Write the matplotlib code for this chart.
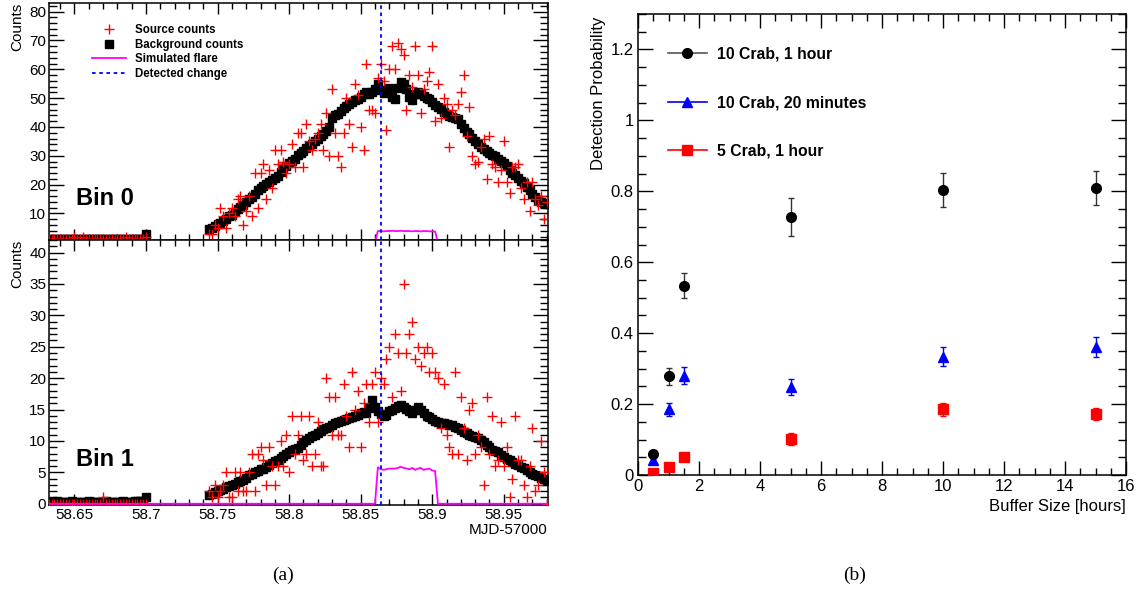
import numpy as np
import matplotlib
matplotlib.use("Agg")
import matplotlib.pyplot as plt
from matplotlib.lines import Line2D
from matplotlib.ticker import MultipleLocator, FuncFormatter

plt.rcParams['font.family'] = ['Liberation Sans', 'DejaVu Sans']

# ---------------- panel (a) data ----------------
bin_width = 0.002
early_start = 58.632
main_start = 58.744
flare_start = 58.860
change_time = 58.864

bg0_early = [1.0, 1.0, 1.1, 1.0, 1.0, 1.0, 1.1, 1.0, 1.0, 1.0,
             1.0, 1.1, 1.0, 1.0, 1.0, 1.0, 1.1, 1.0, 1.0, 1.0,
             1.0, 1.0, 1.1, 1.0, 1.0, 1.0, 1.0, 1.1, 1.0, 1.0,
             1.1, 1.2, 1.2, 1.3, 2.9]
src0_early = [1, 1, 1, 1, 1, 1, 1, 1, 1, 2,
              1, 1, 2, 1, 1, 1, 1, 1, 1, 1,
              1, 1, 1, 1, 1, 1, 1, 2, 1, 1,
              1, 1, 1, 1, 2]
bg1_early = [0.3, 0.3, 0.3, 0.4, 0.3, 0.3, 0.3, 0.3, 0.4, 0.3,
             0.3, 0.3, 0.3, 0.3, 0.4, 0.3, 0.3, 0.3, 0.3, 0.3,
             0.4, 0.3, 0.3, 0.3, 0.3, 0.3, 0.4, 0.3, 0.3, 0.3,
             0.4, 0.4, 0.5, 0.5, 1.0]
src1_early = [0, 0, 0, 0, 0, 0, 0, 0, 0, 0,
              0, 0, 0, 0, 0, 0, 0, 0, 0, 1,
              0, 0, 0, 0, 0, 0, 0, 0, 0, 0,
              0, 0, 0, 0, 0]

bg0 = [4.6, 5.0, 5.6, 6.2, 6.8, 7.5, 8.2, 9.0, 9.6, 10.5,
       11.4, 12.3, 13.0, 14.0, 15.0, 15.8, 16.8, 18.0, 18.8, 19.6,
       20.2, 21.0, 21.6, 22.3, 23.0, 24.5, 25.6, 26.6, 27.4, 28.3,
       29.0, 30.2, 31.0, 31.8, 32.6, 33.3, 34.2, 35.0, 35.8, 36.8,
       37.6, 38.5, 40.0, 43.0, 44.0, 44.6, 45.4, 46.5, 47.3, 48.0,
       48.8, 49.3, 49.8, 50.5, 51.3, 52.2, 51.5, 52.0, 53.0, 54.8,
       52.8, 51.8, 52.5, 53.6, 50.5, 49.8, 53.5, 55.5, 54.8, 53.2,
       50.5, 49.4, 51.5, 52.3, 51.5, 50.8, 50.2, 49.6, 48.8, 47.6,
       47.0, 46.2, 45.3, 44.5, 43.8, 43.5, 43.2, 42.6, 41.0, 39.6,
       38.3, 37.4, 36.2, 35.2, 34.2, 33.0, 32.2, 31.6, 31.0, 30.4,
       30.0, 29.0, 28.2, 27.4, 26.4, 25.2, 24.2, 23.4, 22.4, 21.4,
       20.4, 19.2, 18.0, 16.8, 15.8, 14.8, 14.0, 13.6, 13.2]
src0 = [3, 3, 6, 5, 12, 9, 5, 10, 12, 9,
        15, 16, 6, 11, 16, 9, 24, 12, 24, 27,
        15, 25, 19, 32, 27, 32, 28, 24, 27, 34,
        26, 38, 38, 26, 41, 35, 32, 36, 38, 41,
        32, 45, 30, 53, 38, 30, 26, 38, 50, 41,
        33, 55, 51, 40, 32, 62, 46, 46, 45, 57,
        62, 56, 39, 60, 68, 60, 69, 67, 65, 46,
        58, 54, 68, 58, 45, 53, 56, 59, 68, 42,
        55, 43, 50, 48, 33, 46, 44, 48, 52, 58,
        37, 47, 30, 27, 28, 33, 36, 22, 37, 27,
        26, 21, 25, 35, 21, 17, 26, 26, 27, 19,
        15, 21, 11, 21, 15, 13, 16, 8, 14]
bg1 = [1.4, 1.6, 1.8, 2.0, 2.2, 2.4, 2.6, 2.8, 3.0, 3.2,
       3.5, 3.7, 3.8, 4.1, 4.6, 4.8, 5.0, 5.2, 5.5, 5.6,
       5.8, 6.2, 6.5, 6.8, 7.0, 7.3, 7.6, 7.9, 8.2, 8.5,
       8.7, 8.9, 9.3, 9.8, 10.2, 10.5, 10.8, 11.0, 11.3, 11.6,
       11.9, 12.0, 12.2, 12.5, 12.8, 13.0, 13.1, 13.3, 13.5, 13.6,
       13.8, 14.0, 14.2, 14.4, 14.6, 14.5, 15.3, 16.6, 15.4, 14.8,
       14.3, 13.9, 14.2, 14.8, 15.0, 15.2, 15.5, 15.8, 15.4, 15.1,
       14.7, 14.5, 15.0, 15.4, 15.0, 14.4, 14.0, 13.8, 13.5, 13.2,
       13.0, 12.9, 12.8, 12.7, 12.6, 12.5, 12.3, 12.0, 11.7, 11.4,
       11.2, 11.0, 10.8, 10.6, 10.4, 10.2, 9.8, 9.4, 9.0, 8.6,
       8.4, 8.2, 7.8, 7.4, 7.1, 6.9, 6.7, 6.4, 6.1, 5.9,
       5.7, 5.4, 5.1, 4.8, 4.6, 4.4, 4.1, 3.9, 3.7]
src1 = [2, 1, 3, 1, 2, 3, 5, 1, 1, 5,
        2, 5, 2, 2, 5, 8, 2, 8, 9, 7,
        3, 9, 6, 3, 6, 10, 6, 11, 5, 14,
        8, 11, 14, 7, 8, 14, 6, 8, 13, 6,
        6, 20, 17, 11, 17, 11, 11, 19, 14, 9,
        21, 15, 18, 9, 16, 19, 13, 19, 21, 13,
        20, 19, 23, 25, 17, 27, 24, 18, 35, 24,
        27, 29, 23, 25, 22, 24, 25, 21, 24, 21,
        20, 12, 19, 11, 9, 8, 21, 8, 17, 12,
        7, 15, 16, 8, 11, 9, 3, 17, 8, 14,
        6, 7, 13, 6, 9, 1, 4, 14, 7, 7,
        3, 1, 6, 12, 2, 3, 10, 5, 0]
flare0 = [0, 3.9, 3.9, 3.8, 3.9, 3.9, 4.0, 3.9, 3.9, 4.0, 3.9, 3.9,
          3.9, 3.8, 3.9, 3.9, 3.8, 3.9, 3.9, 3.8, 3.8, 3.7, 0]
flare1 = [0, 5.8, 5.5, 5.4, 5.5, 5.6, 5.6, 5.6, 5.7, 5.9, 5.7, 5.6,
          5.5, 5.7, 5.4, 5.6, 5.7, 5.4, 5.5, 5.6, 5.3, 5.2, 0]

# ---------------- panel (b) data ----------------
buffer_hours = [0.5, 1, 1.5, 5, 10, 15]
p10_1h = [0.058, 0.279, 0.534, 0.728, 0.805, 0.808]
e10_1h = [0.010, 0.024, 0.035, 0.054, 0.048, 0.048]
p10_20m = [0.042, 0.185, 0.280, 0.248, 0.334, 0.361]
e10_20m = [0.008, 0.018, 0.024, 0.023, 0.027, 0.028]
p5_1h = [0.007, 0.023, 0.052, 0.101, 0.185, 0.171]
e5_1h = [0.004, 0.007, 0.010, 0.017, 0.019, 0.017]

XMIN, XMAX = 58.6322, 58.9809

t_early = early_start + bin_width * np.arange(len(bg0_early))
t_main = main_start + bin_width * np.arange(len(bg0))
t_flare = flare_start + bin_width * np.arange(len(flare0))

W, H = 1142, 593
fig = plt.figure(figsize=(W / 100, H / 100), dpi=100)
ax0 = fig.add_axes([49 / W, 1 - 240 / H, 499 / W, 237 / H])
ax1 = fig.add_axes([49 / W, 1 - 505 / H, 499 / W, 265 / H])
ax2 = fig.add_axes([638 / W, 1 - 475 / H, 488 / W, 461 / H])

gfmt = FuncFormatter(lambda v, p: ('%g' % round(v, 4)))

for ax, bge, srce, bg, src, fl in [(ax0, bg0_early, src0_early, bg0, src0, flare0),
                                   (ax1, bg1_early, src1_early, bg1, src1, flare1)]:
    ax.plot(t_early, bge, ls='none', marker='s', ms=6.3, color='black', zorder=3)
    ax.plot(t_main, bg, ls='none', marker='s', ms=6.3, color='black', zorder=3)
    ax.plot(t_early, srce, ls='none', marker='+', ms=7, mew=1.0, color='red', zorder=4)
    ax.plot(t_main, src, ls='none', marker='+', ms=7, mew=1.0, color='red', zorder=4)
    fx = np.concatenate([[XMIN], t_flare, [XMAX]])
    fy = np.concatenate([[0], fl, [0]])
    ax.plot(fx, fy, color='magenta', lw=1.3, zorder=5)
    ax.axvline(change_time, color='blue', ls=(0, (2, 2)), lw=1.3, zorder=6)
    ax.set_xlim(XMIN, XMAX)
    ax.xaxis.set_major_locator(MultipleLocator(0.05))
    ax.xaxis.set_minor_locator(MultipleLocator(0.01))
    ax.tick_params(which='both', direction='in', top=True, right=True, labelsize=11, pad=2)
    ax.tick_params(axis='y', which='major', length=11, width=1)
    ax.tick_params(axis='y', which='minor', length=5.5, width=1)
    ax.tick_params(axis='x', which='major', length=8, width=1)
    ax.tick_params(axis='x', which='minor', length=4, width=1)
    ax.yaxis.set_major_formatter(gfmt)
    ax.xaxis.set_major_formatter(gfmt)
    for s in ax.spines.values():
        s.set_linewidth(1.1)

ax0.set_ylim(0.8, 83)
ax0.yaxis.set_major_locator(MultipleLocator(10))
ax0.yaxis.set_minor_locator(MultipleLocator(2))
ax0.tick_params(axis='x', labelbottom=False)
ax0.spines['bottom'].set_color('#602060')

ax1.set_ylim(-0.2, 42)
ax1.yaxis.set_major_locator(MultipleLocator(5))
ax1.yaxis.set_minor_locator(MultipleLocator(1))

for ax in (ax0, ax1):
    ax.set_ylabel('Counts', fontsize=11, ha='right')
ax0.yaxis.set_label_coords(-0.05, 1.0)
ax1.yaxis.set_label_coords(-0.05, 1.0)

ax0.text(0.054, 0.177, 'Bin 0', transform=ax0.transAxes, fontsize=17,
         fontweight='bold', va='center', ha='left')
ax1.text(0.054, 0.17, 'Bin 1', transform=ax1.transAxes, fontsize=17,
         fontweight='bold', va='center', ha='left')
ax1.text(1.0, -0.095, 'MJD-57000', transform=ax1.transAxes, fontsize=11,
         ha='right', va='center')

h_a = [Line2D([], [], ls='none', marker='+', ms=7, mew=1.0, color='red'),
       Line2D([], [], ls='none', marker='s', ms=6.3, color='black'),
       Line2D([], [], color='magenta', lw=1.3),
       Line2D([], [], color='blue', ls=(0, (2, 2)), lw=1.3)]
ax0.legend(h_a, ['Source counts', 'Background counts', 'Simulated flare', 'Detected change'],
           loc='upper left', bbox_to_anchor=(0.086, 0.91), frameon=False,
           prop={'weight': 'bold', 'size': 8.3}, handlelength=3.0, handletextpad=0.7,
           labelspacing=0.22, borderpad=0, borderaxespad=0)

# ---------------- panel (b) ----------------
ax2.errorbar(buffer_hours, p10_1h, yerr=e10_1h, fmt='o', ms=7, color='black',
             ecolor='#333333', elinewidth=1, capsize=2, zorder=4)
ax2.errorbar(buffer_hours, p10_20m, yerr=e10_20m, fmt='^', ms=7, color='blue',
             ecolor='blue', elinewidth=1, capsize=2, zorder=3)
ax2.errorbar(buffer_hours, p5_1h, yerr=e5_1h, fmt='s', ms=7, color='red',
             ecolor='red', elinewidth=1, capsize=2, zorder=3)
ax2.set_xlim(0, 16)
ax2.set_ylim(0, 1.3)
ax2.xaxis.set_major_locator(MultipleLocator(2))
ax2.xaxis.set_minor_locator(MultipleLocator(0.5))
ax2.yaxis.set_major_locator(MultipleLocator(0.2))
ax2.yaxis.set_minor_locator(MultipleLocator(0.05))
ax2.xaxis.set_major_formatter(gfmt)
ax2.yaxis.set_major_formatter(gfmt)
ax2.tick_params(which='both', direction='in', top=True, right=True, labelsize=12, pad=3)
ax2.tick_params(axis='y', which='major', length=11, width=1)
ax2.tick_params(axis='y', which='minor', length=5.5, width=1)
ax2.tick_params(axis='x', which='major', length=10, width=1)
ax2.tick_params(axis='x', which='minor', length=5, width=1)
for s in ax2.spines.values():
    s.set_linewidth(1.1)
ax2.set_ylabel('Detection Probability', fontsize=12, ha='right')
ax2.yaxis.set_label_coords(-0.066, 0.995)
ax2.set_xlabel('Buffer Size [hours]', fontsize=12, ha='right')
ax2.xaxis.set_label_coords(1.0, -0.052)

h_b = [Line2D([], [], color='#555555', lw=1.2, marker='o', mfc='black', mec='black', ms=7),
       Line2D([], [], color='blue', lw=1.2, marker='^', ms=7),
       Line2D([], [], color='red', lw=1.2, marker='s', ms=7)]
ax2.legend(h_b, ['10 Crab, 1 hour', '10 Crab, 20 minutes', '5 Crab, 1 hour'],
           loc='upper left', bbox_to_anchor=(0.061, 0.93), frameon=False,
           prop={'weight': 'bold', 'size': 11.3}, handlelength=2.5, handletextpad=0.65,
           labelspacing=2.15, borderpad=0, borderaxespad=0)

fig.text(283 / W, 1 - 575 / H, '(a)', fontsize=14, family='Liberation Serif', ha='center', va='center')
fig.text(855 / W, 1 - 575 / H, '(b)', fontsize=14, family='Liberation Serif', ha='center', va='center')

fig.savefig('out.png', dpi=100)
